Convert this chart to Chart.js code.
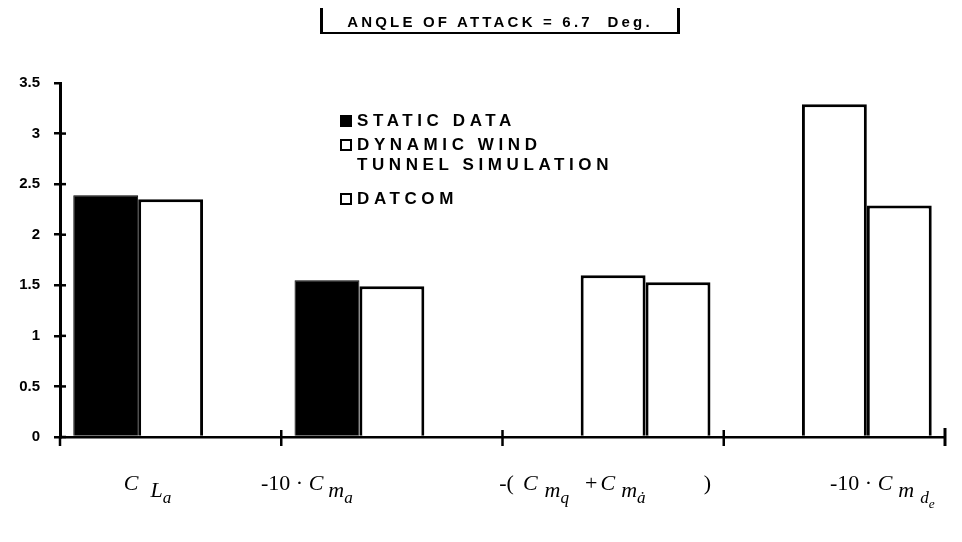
<!DOCTYPE html>
<html>
<head>
<meta charset="utf-8">
<script src="https://cdn.jsdelivr.net/npm/chart.js"></script>
<style>
  body { margin: 0; background: #fff; }
  #wrap { position: relative; width: 962px; height: 542px; }
  #title {
    position: absolute; left: 320px; top: 8px; width: 354px; height: 24px;
    border-left: 3px solid #000; border-right: 3px solid #000; border-bottom: 2px solid #000;
    font: bold 15px "Liberation Sans", Arial, sans-serif; letter-spacing: 3.2px;
    line-height: 28px; text-align: center; white-space: pre;
  }
  .leg {
    position: absolute; left: 340px; padding-left: 17px;
    font: bold 17px "Liberation Sans", Arial, sans-serif; letter-spacing: 4.6px; line-height: 20px;
  }
  .sw { position: absolute; left: 0; top: 4px; width: 12px; height: 12px; box-sizing: border-box; border: 2px solid #000; background: #fff; }
  .cat {
    position: absolute; top: 470px; transform: translateX(-50%);
    font: italic 22px "Liberation Serif", "Times New Roman", serif; white-space: nowrap;
  }
  .cat .up { font-style: normal; }
  .cat .gap { display: inline-block; }
  .cat sub { font-size: 1em; vertical-align: -0.3em; }
  .cat sub sub { font-size: 0.78em; vertical-align: -0.35em; }
</style>
</head>
<body>
<div id="wrap">
  <canvas id="c" width="962" height="542"></canvas>
  <div id="title">ANQLE OF ATTACK = 6.7  Deg.</div>
  <div id="legend"></div>
  <div class="cat" id="cat0"><i>C</i><span class="gap" style="width:12px"></span><sub><i>L</i><sub><i>a</i></sub></sub></div>
  <div class="cat" id="cat1"><span class="up">-10 · </span><i>C</i><span class="gap" style="width:5px"></span><sub><i>m</i><sub><i>a</i></sub></sub></div>
  <div class="cat" id="cat2"><span class="up">-(</span><span class="gap" style="width:9px"></span><i>C</i><span class="gap" style="width:7px"></span><sub><i>m</i><sub><i>q</i></sub></sub><span class="gap" style="width:16px"></span><span class="up">+</span><span class="gap" style="width:3px"></span><i>C</i><span class="gap" style="width:6px"></span><sub><i>m</i><sub><i>ȧ</i></sub></sub><span class="gap" style="width:58px"></span><span class="up">)</span></div>
  <div class="cat" id="cat3"><span class="up">-10 · </span><i>C</i><span class="gap" style="width:6px"></span><sub><i>m</i><span class="gap" style="width:6px"></span><sub><i>d</i><sub><i>e</i></sub></sub></sub></div>
</div>
<script>
// categories (drawn as formatted labels under the axis)
const categories = ['C_La', '-10·C_ma', '-(C_mq + C_mȧ)', '-10·C_mde'];
const seriesNames = ['STATIC DATA', 'DYNAMIC WIND\nTUNNEL SIMULATION', 'DATCOM'];
const staticData = [2.39, 1.55, null, null];
const dynamicData = [2.35, 1.49, 1.60, 3.29];
const datcomData = [null, null, 1.53, 2.29];
const yTicks = [0, 0.5, 1, 1.5, 2, 2.5, 3, 3.5];

// label nudges from category centre, legend row tops
const labelShift = [-23, -85, -8, 48];
const legendTops = [111, 135, 189];

// legend built from series names
const legend = document.getElementById('legend');
seriesNames.forEach((name, i) => {
  const d = document.createElement('div');
  d.className = 'leg';
  d.style.top = legendTops[i] + 'px';
  d.innerHTML = '<span class="sw" style="background:' + (i === 0 ? '#000' : '#fff') + '"></span>' +
    name.replace('\n', '<br>');
  legend.appendChild(d);
});

// extra axis marks: ticks crossing the axes, category dividers, end bar
const axisMarks = {
  id: 'axisMarks',
  afterDraw(chart) {
    const { ctx, scales: { x, y } } = chart;
    ctx.save();
    ctx.strokeStyle = '#000';
    ctx.lineWidth = 2.5;
    y.ticks.forEach((t, i) => {
      if (i === y.ticks.length - 1) return;
      const py = y.getPixelForTick(i);
      ctx.beginPath(); ctx.moveTo(x.left, py); ctx.lineTo(x.left + 6, py); ctx.stroke();
    });
    ctx.beginPath(); ctx.moveTo(x.left, y.bottom); ctx.lineTo(x.left, y.bottom + 9); ctx.stroke();
    for (let i = 0; i < categories.length - 1; i++) {
      const px = (x.getPixelForValue(i) + x.getPixelForValue(i + 1)) / 2;
      ctx.beginPath(); ctx.moveTo(px, y.bottom - 7); ctx.lineTo(px, y.bottom + 9); ctx.stroke();
    }
    ctx.lineWidth = 3;
    ctx.beginPath(); ctx.moveTo(x.right, y.bottom - 9); ctx.lineTo(x.right, y.bottom + 9); ctx.stroke();
    ctx.restore();
  }
};

const chart = new Chart(document.getElementById('c'), {
  type: 'bar',
  data: {
    labels: categories,
    datasets: [
      { label: seriesNames[0], data: staticData, backgroundColor: '#000', borderColor: '#000', borderWidth: 1 },
      { label: seriesNames[1], data: dynamicData, backgroundColor: '#fff', borderColor: '#000', borderWidth: 3 },
      { label: seriesNames[2], data: datcomData, backgroundColor: '#fff', borderColor: '#000', borderWidth: 3 }
    ]
  },
  options: {
    responsive: false,
    animation: false,
    layout: { padding: { top: 83, right: 17, bottom: 105, left: 0 } },
    datasets: { bar: { categoryPercentage: 0.88, barPercentage: 1 } },
    plugins: { legend: { display: false }, tooltip: { enabled: false } },
    scales: {
      x: {
        ticks: { display: false },
        grid: { display: false },
        border: { display: true, color: '#000', width: 2.5 },
        afterFit(s) { s.height = 0; }
      },
      y: {
        min: 0, max: 3.5,
        afterBuildTicks(s) { s.ticks = yTicks.map(v => ({ value: v })); },
        afterFit(s) { s.width = 60; },
        ticks: {
          color: '#000', padding: 14,
          font: { family: 'Liberation Sans', weight: 'bold', size: 15 },
          callback: v => String(v)
        },
        grid: { drawOnChartArea: false, drawTicks: true, tickLength: 6, color: '#000', lineWidth: 2.5 },
        border: { display: true, color: '#000', width: 3 }
      }
    }
  },
  plugins: [axisMarks]
});

// place the formatted category labels under their categories
categories.forEach((c, i) => {
  const px = chart.scales.x.getPixelForValue(i) + labelShift[i];
  document.getElementById('cat' + i).style.left = px + 'px';
});
</script>
</body>
</html>
